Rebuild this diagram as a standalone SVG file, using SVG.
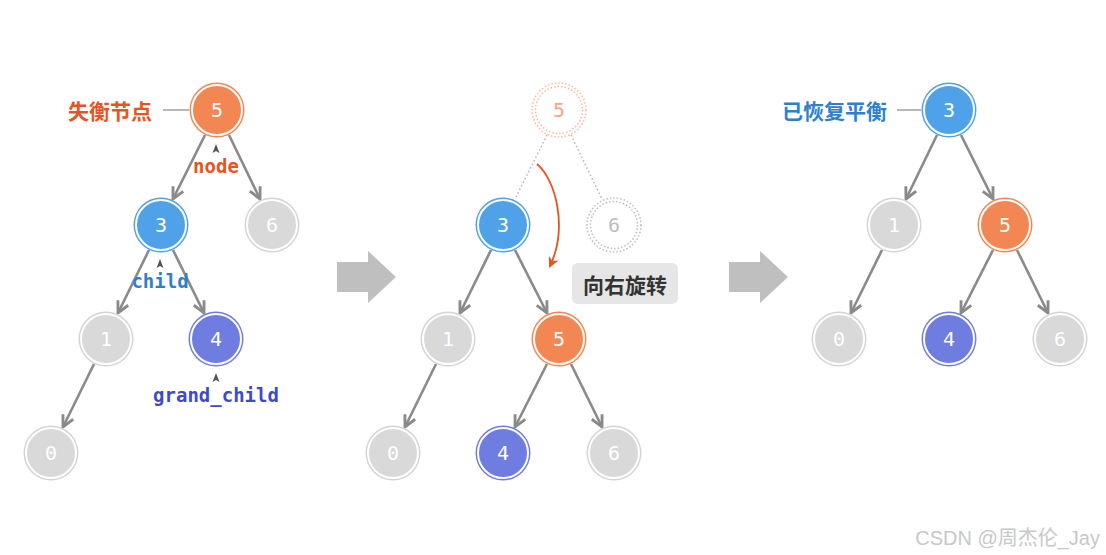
<svg xmlns="http://www.w3.org/2000/svg" width="1106" height="555" viewBox="0 0 1106 555">
<defs>
<style>
.num{font-family:"DejaVu Sans Mono",monospace;font-size:20px;fill:#fff;text-anchor:middle;dominant-baseline:central}
.edge{stroke:#8a8a8a;stroke-width:2.6;fill:none;marker-end:url(#ah)}
.dot{stroke:#b5b5b5;stroke-width:1.5;stroke-dasharray:1.5 2.5;fill:none}
.cn{font-family:"Noto Sans CJK SC",sans-serif;font-weight:bold;font-size:21px;dominant-baseline:central}
.code{font-family:"DejaVu Sans Mono",monospace;font-weight:bold;font-size:19px;text-anchor:middle;dominant-baseline:central}
.ptr{fill:#555}
.big{fill:#bfbfbf}
</style>
<marker id="ah" viewBox="0 0 10 10" refX="9" refY="5" markerWidth="5.5" markerHeight="5.5" orient="auto" markerUnits="strokeWidth">
<path d="M1,1 L9,5 L1,9" fill="none" stroke="#8a8a8a" stroke-width="2"/>
</marker>
<marker id="ahr" viewBox="0 0 10 10" refX="8" refY="5" markerWidth="6" markerHeight="6" orient="auto" markerUnits="strokeWidth">
<path d="M0,0 L10,5 L0,10 L3,5 Z" fill="#e8541f"/>
</marker>
<g id="n-orange"><circle r="27.5" fill="#f38753"/><circle r="25" fill="#f38753" stroke="#fff" stroke-width="2"/></g>
<g id="n-blue"><circle r="27.5" fill="#4fa1e8"/><circle r="25" fill="#4fa1e8" stroke="#fff" stroke-width="2"/></g>
<g id="n-purple"><circle r="27.5" fill="#6f7ce0"/><circle r="25" fill="#6f7ce0" stroke="#fff" stroke-width="2"/></g>
<g id="n-gray"><circle r="27.5" fill="#d4d4d4"/><circle r="25" fill="#d9d9d9" stroke="#fff" stroke-width="2"/></g>
<path id="ptr" d="M0,-5 L3.5,4 L0,2 L-3.5,4 Z"/>
</defs>
<rect width="1106" height="555" fill="#fff"/>

<g id="connectors">
<!-- left tree -->
<line class="edge" x1="205" y1="135" x2="173" y2="199"/>
<line class="edge" x1="229" y1="135" x2="260" y2="199"/>
<line class="edge" x1="149" y1="250" x2="118" y2="313"/>
<line class="edge" x1="173" y1="250" x2="204" y2="313"/>
<line class="edge" x1="94" y1="364" x2="63" y2="427"/>
<!-- middle tree -->
<line class="dot" x1="547" y1="135" x2="515" y2="199"/>
<line class="dot" x1="571" y1="135" x2="602" y2="199"/>
<line class="edge" x1="491" y1="250" x2="460" y2="313"/>
<line class="edge" x1="515" y1="250" x2="547" y2="313"/>
<line class="edge" x1="436" y1="364" x2="405" y2="427"/>
<line class="edge" x1="547" y1="364" x2="515" y2="427"/>
<line class="edge" x1="571" y1="364" x2="602" y2="427"/>
<!-- right tree -->
<line class="edge" x1="937" y1="135" x2="906" y2="199"/>
<line class="edge" x1="961" y1="135" x2="993" y2="199"/>
<line class="edge" x1="882" y1="250" x2="851" y2="313"/>
<line class="edge" x1="993" y1="250" x2="961" y2="313"/>
<line class="edge" x1="1017" y1="250" x2="1048" y2="313"/>
<!-- label leaders -->
<line x1="163" y1="110" x2="189" y2="110" stroke="#888" stroke-width="1.2"/>
<line x1="897" y1="110" x2="921" y2="110" stroke="#888" stroke-width="1.2"/>
<!-- rotation arrow -->
<path d="M537,164 C556,180 568,228 550,266" fill="none" stroke="#e8541f" stroke-width="1.8" marker-end="url(#ahr)"/>
</g>

<!-- left tree nodes -->
<g id="L5" transform="translate(217,110)"><use href="#n-orange"/><text class="num">5</text></g>
<g id="L3" transform="translate(161,225)"><use href="#n-blue"/><text class="num">3</text></g>
<g id="L6" transform="translate(272,225)"><use href="#n-gray"/><text class="num">6</text></g>
<g id="L1" transform="translate(106,339)"><use href="#n-gray"/><text class="num">1</text></g>
<g id="L4" transform="translate(216,339)"><use href="#n-purple"/><text class="num">4</text></g>
<g id="L0" transform="translate(51,453)"><use href="#n-gray"/><text class="num">0</text></g>

<g id="label-unbalanced"><text class="cn" x="68" y="110" fill="#e8541f">失衡节点</text></g>
<g id="label-node"><use href="#ptr" class="ptr" x="216" y="149"/><text class="code" x="216" y="166" fill="#e8541f">node</text></g>
<g id="label-child"><use href="#ptr" class="ptr" x="160" y="264"/><text class="code" x="160" y="281" fill="#2f7fcf">child</text></g>
<g id="label-grandchild"><use href="#ptr" class="ptr" x="216" y="378"/><text class="code" x="216" y="395" fill="#3f4ac8">grand_child</text></g>

<!-- big arrows -->
<g id="arrow1"><polygon class="big" points="337,262 368,262 368,251 396,277 368,303 368,292 337,292"/></g>
<g id="arrow2"><polygon class="big" points="729,262 760,262 760,251 788,277 760,303 760,292 729,292"/></g>

<!-- middle tree nodes -->
<g id="M5old" transform="translate(559,110)">
<circle r="27" fill="none" stroke="#f9b89c" stroke-width="1.5" stroke-dasharray="1.5 2"/>
<circle r="23.5" fill="none" stroke="#f9b89c" stroke-width="1.5" stroke-dasharray="1.5 2"/>
<text class="num" style="fill:#f6a684">5</text></g>
<g id="M6old" transform="translate(614,225)">
<circle r="27" fill="none" stroke="#bdbdbd" stroke-width="1.5" stroke-dasharray="1.5 2"/>
<circle r="23.5" fill="none" stroke="#bdbdbd" stroke-width="1.5" stroke-dasharray="1.5 2"/>
<text class="num" style="fill:#bdbdbd">6</text></g>
<g id="M3" transform="translate(503,225)"><use href="#n-blue"/><text class="num">3</text></g>
<g id="M1" transform="translate(448,339)"><use href="#n-gray"/><text class="num">1</text></g>
<g id="M5" transform="translate(559,339)"><use href="#n-orange"/><text class="num">5</text></g>
<g id="M0" transform="translate(393,453)"><use href="#n-gray"/><text class="num">0</text></g>
<g id="M4" transform="translate(503,453)"><use href="#n-purple"/><text class="num">4</text></g>
<g id="M6" transform="translate(614,453)"><use href="#n-gray"/><text class="num">6</text></g>

<g id="label-rotate">
<rect x="572" y="263" width="106" height="41" rx="6" fill="#e6e6e6"/>
<text class="cn" x="625" y="283.5" fill="#333" text-anchor="middle">向右旋转</text>
</g>

<!-- right tree nodes -->
<g id="R3" transform="translate(949,110)"><use href="#n-blue"/><text class="num">3</text></g>
<g id="R1" transform="translate(894,225)"><use href="#n-gray"/><text class="num">1</text></g>
<g id="R5" transform="translate(1005,225)"><use href="#n-orange"/><text class="num">5</text></g>
<g id="R0" transform="translate(839,339)"><use href="#n-gray"/><text class="num">0</text></g>
<g id="R4" transform="translate(949,339)"><use href="#n-purple"/><text class="num">4</text></g>
<g id="R6" transform="translate(1060,339)"><use href="#n-gray"/><text class="num">6</text></g>
<g id="label-balanced"><text class="cn" x="782" y="110" fill="#2f7fcf">已恢复平衡</text></g>

<text x="1100" y="538" text-anchor="end" dominant-baseline="central" fill="#c8c8c8" style="font-family:'Liberation Sans','Noto Sans CJK SC',sans-serif;font-size:20px">CSDN @周杰伦_Jay</text>
</svg>
